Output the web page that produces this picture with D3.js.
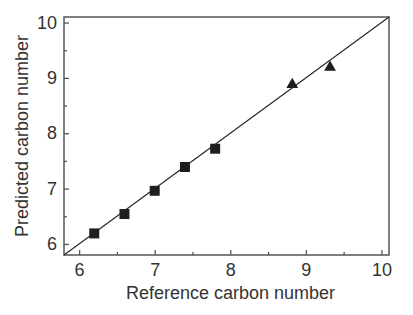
<!DOCTYPE html>
<html>
<head>
<meta charset="utf-8">
<script src="https://cdn.jsdelivr.net/npm/d3@7"></script>
<style>
  body { margin: 0; background: #fff; }
  text { font-family: "Liberation Sans", Arial, sans-serif; fill: #333; }
</style>
</head>
<body>
<svg></svg>
<script>
// data
const squareRef = [6.2, 6.6, 7.0, 7.4, 7.8]
const squarePred = [6.19, 6.54, 6.96, 7.39, 7.72]
const triRef = [8.82, 9.32]
const triPred = [8.88, 9.19]
const tickValues = [6, 7, 8, 9, 10]
const minorTicks = [6.5, 7.5, 8.5, 9.5]

const
    width = 413,
    height = 315,
    LEFT = 64,
    RIGHT = 389,
    TOP = 17,
    BOTTOM = 255,
    FONT = 18

let svg = d3.select('svg')
    .attr('width', width)
    .attr('height', height)

const x = d3.scaleLinear().domain([5.8, 10.1]).range([LEFT, RIGHT])
const y = d3.scaleLinear().domain([5.8, 10.1]).range([BOTTOM, TOP])

const axisColor = '#555'
const fmt = d3.format('d')

// x axis, ticks pointing inward
let xAxis = svg.append('g')
    .attr('transform', `translate(0,${BOTTOM})`)
    .call(d3.axisBottom(x).tickValues(tickValues).tickFormat(fmt).tickSizeInner(-5).tickSizeOuter(0).tickPadding(8))
xAxis.append('g')
    .call(d3.axisBottom(x).tickValues(minorTicks).tickSizeInner(-3).tickSizeOuter(0).tickFormat(''))

let yAxis = svg.append('g')
    .attr('transform', `translate(${LEFT},0)`)
    .call(d3.axisLeft(y).tickValues(tickValues).tickFormat(fmt).tickSizeInner(-5).tickSizeOuter(0).tickPadding(7))
yAxis.append('g')
    .call(d3.axisLeft(y).tickValues(minorTicks).tickSizeInner(-3).tickSizeOuter(0).tickFormat(''))

svg.selectAll('.domain').remove()
svg.selectAll('.tick line').attr('stroke', axisColor).attr('stroke-width', 1.3)
svg.selectAll('.tick text')
    .attr('font-size', FONT)
    .attr('fill', '#333')
    .style('font-family', '"Liberation Sans", Arial, sans-serif')

// frame
svg.append('rect')
    .attr('x', LEFT)
    .attr('y', TOP)
    .attr('width', RIGHT - LEFT)
    .attr('height', BOTTOM - TOP)
    .attr('fill', 'none')
    .attr('stroke', axisColor)
    .attr('stroke-width', 1.5)

// y = x line
svg.append('line')
    .attr('x1', x(5.8))
    .attr('y1', y(5.8))
    .attr('x2', x(10.1))
    .attr('y2', y(10.1))
    .attr('stroke', '#222')
    .attr('stroke-width', 1.1)

// squares
const sqSize = 10
svg.append('g').selectAll('rect')
    .data(squareRef.map((d, i) => [d, squarePred[i]]))
    .join('rect')
    .attr('x', d => x(d[0]) - sqSize / 2)
    .attr('y', d => y(d[1]) - sqSize / 2)
    .attr('width', sqSize)
    .attr('height', sqSize)
    .attr('fill', '#1e1e1e')

// triangles
const tri = d3.symbol().type(d3.symbolTriangle).size(60)
svg.append('g').selectAll('path')
    .data(triRef.map((d, i) => [d, triPred[i]]))
    .join('path')
    .attr('d', tri)
    .attr('transform', d => `translate(${x(d[0])},${y(d[1])})`)
    .attr('fill', '#1e1e1e')

// axis titles
svg.append('text')
    .text('Reference carbon number')
    .attr('x', (LEFT + RIGHT) / 2 + 4)
    .attr('y', 299)
    .attr('text-anchor', 'middle')
    .attr('font-size', FONT)

svg.append('text')
    .text('Predicted carbon number')
    .attr('transform', `translate(28,${(TOP + BOTTOM) / 2}) rotate(-90)`)
    .attr('text-anchor', 'middle')
    .attr('font-size', FONT)
</script>
</body>
</html>
